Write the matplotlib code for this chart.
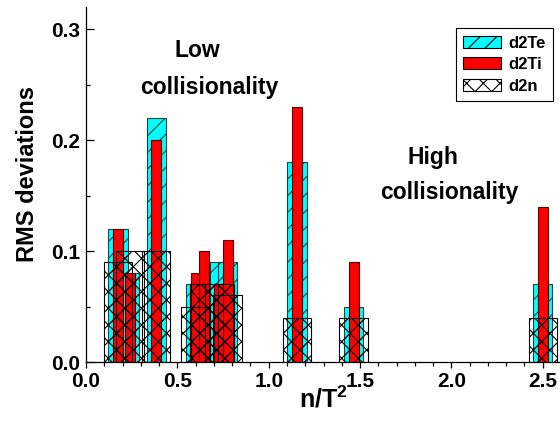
#!/usr/bin/env python3
"""RMS deviations of d2Te / d2Ti / d2n profiles against n/T^2."""

import matplotlib

matplotlib.use("Agg")

import matplotlib.pyplot as plt
import numpy as np
from matplotlib.patches import Patch
from matplotlib.ticker import FormatStrFormatter, MultipleLocator

# values
n_over_T2 = [0.175, 0.24, 0.385, 0.60, 0.645, 0.73, 0.775, 1.155, 1.465, 2.50]
d2Te = [0.12, 0.08, 0.22, 0.07, 0.07, 0.09, 0.09, 0.18, 0.05, 0.07]
d2Ti = [0.12, 0.08, 0.20, 0.08, 0.10, 0.07, 0.11, 0.23, 0.09, 0.14]
d2n = [0.09, 0.10, 0.10, 0.05, 0.07, 0.07, 0.06, 0.04, 0.04, 0.04]
series_names = ["d2Te", "d2Ti", "d2n"]

CYAN = "#00ffff"
RED = "#ff0000"

plt.rcParams["font.family"] = ["Liberation Sans", "DejaVu Sans"]
plt.rcParams["font.weight"] = "bold"
plt.rcParams["hatch.linewidth"] = 0.8
plt.rcParams["mathtext.fontset"] = "custom"
plt.rcParams["mathtext.rm"] = "Liberation Sans:bold"


def draw_bars(ax):
    x = np.asarray(n_over_T2)
    ax.bar(x, d2Te, width=0.105, color=CYAN, edgecolor="#1a4040",
           hatch="//", linewidth=0.8, zorder=2)
    ax.bar(x, d2Ti, width=0.055, color=RED, edgecolor="#5a0000",
           linewidth=0.8, zorder=3)
    ax.bar(x, d2n, width=0.155, facecolor="none", edgecolor="black",
           hatch="xx", linewidth=0.8, zorder=4)


def style_axes(ax):
    ax.set_xlim(0, 2.6)
    ax.set_ylim(0, 0.32)
    for side in ("top", "right"):
        ax.spines[side].set_visible(False)
    for side in ("left", "bottom"):
        ax.spines[side].set_linewidth(0.9)

    ax.xaxis.set_major_locator(MultipleLocator(0.5))
    ax.xaxis.set_minor_locator(MultipleLocator(0.1))
    ax.yaxis.set_major_locator(MultipleLocator(0.1))
    ax.yaxis.set_minor_locator(MultipleLocator(0.05))
    ax.xaxis.set_major_formatter(FormatStrFormatter("%.1f"))
    ax.yaxis.set_major_formatter(FormatStrFormatter("%.1f"))

    ax.tick_params(axis="x", which="major", direction="out", length=4, width=0.9,
                   labelsize=15, pad=3)
    ax.tick_params(axis="x", which="minor", direction="out", length=3, width=0.9)
    ax.tick_params(axis="y", which="major", direction="in", length=5.5, width=0.9,
                   labelsize=15, pad=4)
    ax.tick_params(axis="y", which="minor", direction="in", length=3.2, width=0.9)

    ax.set_xlabel(r"n/T$^\mathrm{2}$", fontsize=18, fontweight="bold", labelpad=-3)
    ax.set_ylabel("RMS deviations", fontsize=17, fontweight="bold")
    ax.yaxis.set_label_coords(-0.098, 0.53)


def add_annotations(fig, ax):
    ax.text(0.607, 0.281, "Low", fontsize=16.5, fontweight="bold",
            ha="center", va="center")
    ax.text(0.673, 0.247, "collisionality", fontsize=16.5, fontweight="bold",
            ha="center", va="center")
    ax.text(1.90, 0.184, "High", fontsize=16.5, fontweight="bold",
            ha="center", va="center")
    ax.text(1.99, 0.1525, "collisionality", fontsize=16.5, fontweight="bold",
            ha="center", va="center")

    handles = [
        Patch(facecolor=CYAN, edgecolor="black", hatch="//", linewidth=0.8),
        Patch(facecolor=RED, edgecolor="black", linewidth=0.8),
        Patch(facecolor="white", edgecolor="black", hatch="xx", linewidth=0.8),
    ]
    leg = fig.legend(handles, series_names, loc="upper right",
                     bbox_to_anchor=(553 / 560, 1 - 28 / 421),
                     bbox_transform=fig.transFigure,
                     prop={"weight": "bold", "size": 12},
                     handlelength=2.3, handleheight=0.75, handletextpad=0.4,
                     labelspacing=0.4, borderpad=0.45, borderaxespad=0,
                     fancybox=False, framealpha=1)
    leg.get_frame().set_edgecolor("black")
    leg.get_frame().set_linewidth(0.8)


def main():
    fig = plt.figure(figsize=(5.6, 4.21), dpi=100)
    ax = fig.add_axes([86 / 560, 59 / 421, 475 / 560, 355 / 421])
    draw_bars(ax)
    style_axes(ax)
    add_annotations(fig, ax)
    fig.savefig("out.png", dpi=100)


if __name__ == "__main__":
    main()
